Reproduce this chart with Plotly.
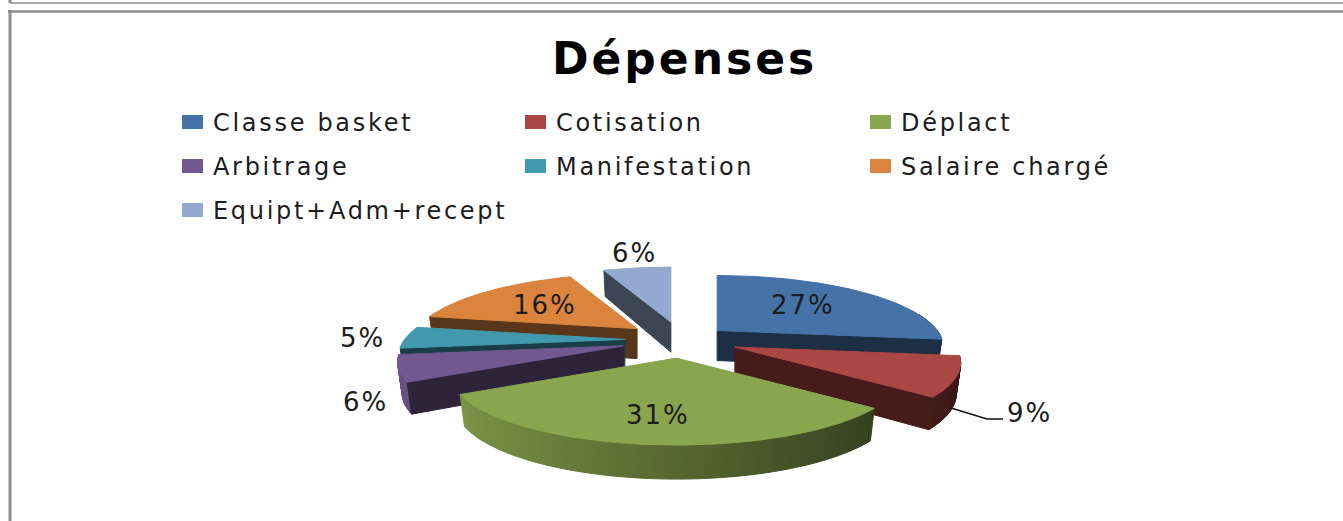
import math
import plotly.graph_objects as go

# ---- data ----
categories = ["Classe basket", "Cotisation", "Déplact", "Arbitrage",
              "Manifestation", "Salaire chargé", "Equipt+Adm+recept"]
values = [27, 9, 31, 6, 5, 16, 6]
title_text = "Dépenses"

# ---- style ----
colors = ["#4573A7", "#AA4643", "#89A54E", "#71588F", "#4198AF", "#DB843D", "#93A9CF"]
explode = [0.213, 0.262, 0.27, 0.28, 0.26, 0.265, 0.27]
paint_order = [6, 0, 5, 4, 3, 1, 2]  # back to front
label_pos = [(803, 305), (1029, 413), (658, 415), (365, 402), (362, 338), (545, 305), (634, 253)]
legend_cols = [182, 525, 870]
legend_rows = [122, 166, 210]
TXT = "#1c1c1c"
FONT = "DejaVu Sans"

# ---- projection of the tilted pie, in page pixels ----
CX, CY = 682, 340
R, H, K = 220, 67.4, 0.225


def rim(theta):
    u, v = math.sin(theta), math.cos(theta)
    s = 1 + K * v
    return R * u / s, -H * v / s


def shade(hexcol, f):
    r, g, b = int(hexcol[1:3], 16), int(hexcol[3:5], 16), int(hexcol[5:7], 16)
    return f"rgb({int(r*f)},{int(g*f)},{int(b*f)})"


def poly(xs, ys, col):
    return go.Scatter(x=xs, y=ys, mode="lines", fill="toself", fillcolor=col,
                      line=dict(color=col, width=1), hoverinfo="skip", showlegend=False)


def lower(ax, t, x, y):
    return ax + (x - ax) * 0.98, y + 30 - 4 * math.cos(t)


total = sum(values)
starts, acc = [], 0
for v in values:
    starts.append(acc / total * 2 * math.pi)
    acc += v

fig = go.Figure()
for i in paint_order:
    a0 = starts[i]
    a1 = a0 + values[i] / total * 2 * math.pi
    mid = (a0 + a1) / 2
    ax = CX + R * explode[i] * math.sin(mid)
    ay = CY - H * explode[i] * math.cos(mid)
    n = max(10, int(values[i] * 4))
    angles = [a0 + (a1 - a0) * j / n for j in range(n + 1)]
    pts = [(ax + rim(t)[0], ay + rim(t)[1]) for t in angles]
    col = colors[i]
    dark = shade(col, 0.41)
    # outer wall, shaded from the lit left side to the dark right side
    for j in range(n):
        tm = (angles[j] + angles[j + 1]) / 2
        if math.cos(tm) > 0.25:
            continue
        f = 0.63 - 0.31 * math.sin(tm)
        x0, y0 = pts[j]
        x1, y1 = pts[j + 1]
        bx0, by0 = lower(ax, angles[j], x0, y0)
        bx1, by1 = lower(ax, angles[j + 1], x1, y1)
        fig.add_trace(poly([x0, x1, bx1, bx0, x0], [y0, y1, by1, by0, y0], shade(col, f)))
    # the cut face that looks towards the viewer
    faces = []
    if math.sin(a0) < -1e-6:
        faces.append((a0, pts[0]))
    if math.sin(a1) > 1e-6:
        faces.append((a1, pts[-1]))
    for t, (x, y) in faces:
        bx, by = lower(ax, t, x, y)
        fig.add_trace(poly([ax, x, bx, ax, ax], [ay, y, by, ay + 30, ay], dark))
    # top face
    fig.add_trace(poly([ax] + [p[0] for p in pts] + [ax], [ay] + [p[1] for p in pts] + [ay], col))

# leader line of the 9% label
fig.add_trace(go.Scatter(x=[951, 987, 1003], y=[408, 419, 419], mode="lines",
                         line=dict(color="#111111", width=1.5), hoverinfo="skip", showlegend=False))

annotations, shapes = [], []


def txt(x, y, s, size, spacing, anchor="left", bold=False, color=TXT):
    body = f'<span style="letter-spacing:{spacing}px">{s}</span>'
    if bold:
        body = f"<b>{body}</b>"
    annotations.append(dict(x=x, y=y, xref="x", yref="y", text=body, showarrow=False,
                            xanchor=anchor, yanchor="middle",
                            font=dict(family=FONT, size=size, color=color)))


txt(684, 58, title_text, 44, 3, "center", True, "#000000")
for k, name in enumerate(categories):
    x = legend_cols[k % 3]
    y = legend_rows[k // 3]
    shapes.append(dict(type="rect", xref="x", yref="y", x0=x, x1=x + 21, y0=y - 7, y1=y + 7,
                       fillcolor=colors[k], line=dict(width=0)))
    txt(x + 29, y + 1, name, 24, 2.7)
for k, v in enumerate(values):
    x, y = label_pos[k]
    txt(x, y, f"{v}%", 26, 2, "center")

# page frame
frame = "#8c8c8c"
shapes += [
    dict(type="line", xref="x", yref="y", x0=10, x1=1343, y0=3, y1=3, line=dict(color=frame, width=1.5)),
    dict(type="line", xref="x", yref="y", x0=10, x1=10, y0=0, y1=3, line=dict(color=frame, width=3)),
    dict(type="line", xref="x", yref="y", x0=8, x1=1343, y0=11.5, y1=11.5, line=dict(color=frame, width=2.5)),
    dict(type="line", xref="x", yref="y", x0=10, x1=10, y0=10, y1=521, line=dict(color=frame, width=3)),
]

hidden = dict(visible=False, fixedrange=True)
fig.update_layout(
    width=1343, height=521, margin=dict(l=0, r=0, t=0, b=0),
    paper_bgcolor="white", plot_bgcolor="white", showlegend=False,
    xaxis=dict(range=[0, 1343], **hidden),
    yaxis=dict(range=[521, 0], **hidden),
    annotations=annotations, shapes=shapes,
)
fig.write_html("out.html", post_script="document.body.style.margin='0';",
               config={"displayModeBar": False})
